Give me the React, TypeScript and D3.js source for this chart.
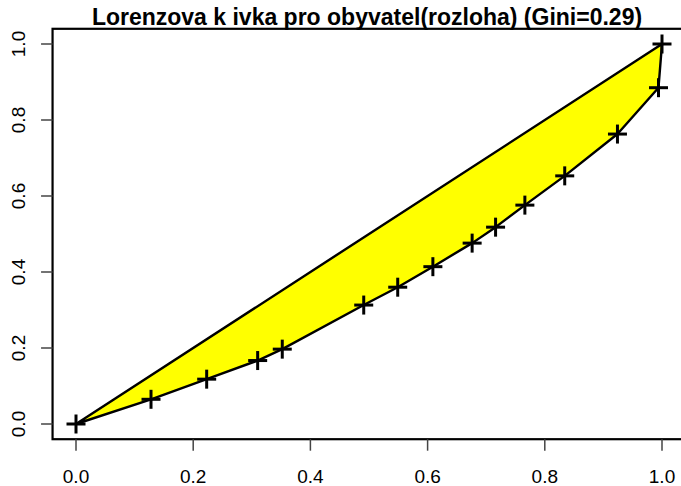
import { useEffect, useRef } from 'react';
import * as d3 from 'd3';

// kumulativní podíl obyvatel a rozlohy
const shareX = [0, 0.128, 0.223, 0.31, 0.352, 0.491, 0.549, 0.609, 0.676, 0.716, 0.766, 0.834, 0.924, 0.994, 1.0];
const shareY = [0, 0.065, 0.118, 0.167, 0.197, 0.313, 0.36, 0.414, 0.476, 0.518, 0.576, 0.653, 0.763, 0.885, 1.0];
const ticks = [0, 0.2, 0.4, 0.6, 0.8, 1.0];
const title = 'Lorenzova k ivka pro obyvatel(rozloha) (Gini=0.29)';

export default function App() {
  const ref = useRef<SVGSVGElement>(null);

  useEffect(() => {
    if (!ref.current) return;
    const svg = d3.select(ref.current);
    svg.selectAll('*').remove();

    const W = 681, H = 486;
    // oblast grafu (R-like, 4 % okraj)
    const x = d3.scaleLinear().domain([0, 1]).range([76, 662]);
    const y = d3.scaleLinear().domain([0, 1]).range([424, 44]);
    const left = x(-0.04), right = x(1.04), top = y(1.04), bottom = y(-0.04);
    const font = 'Liberation Sans, Arial, Helvetica, sans-serif';

    svg.attr('width', W).attr('height', H);
    svg.append('rect').attr('width', W).attr('height', H).attr('fill', 'white');

    const pts: [number, number][] = shareX.map((v, i) => [v, shareY[i]]);
    const poly = pts.concat([[1, 1], [0, 0]]);

    // vyplněná oblast mezi diagonálou a křivkou
    svg.append('path')
      .attr('d', d3.line<[number, number]>().x(d => x(d[0])).y(d => y(d[1]))(poly)!)
      .attr('fill', '#ffff00')
      .attr('stroke', 'black')
      .attr('stroke-width', 2.4)
      .attr('stroke-linejoin', 'round');

    // body (pch = 3)
    const s = 9.5;
    const g = svg.append('g').attr('stroke', 'black').attr('stroke-width', 3);
    pts.forEach(([a, b]) => {
      const cx = x(a), cy = y(b);
      g.append('line').attr('x1', cx - s).attr('x2', cx + s).attr('y1', cy).attr('y2', cy);
      g.append('line').attr('x1', cx).attr('x2', cx).attr('y1', cy - s).attr('y2', cy + s);
    });

    // rámeček
    svg.append('rect')
      .attr('x', left).attr('y', top)
      .attr('width', right - left).attr('height', bottom - top)
      .attr('fill', 'none').attr('stroke', 'black').attr('stroke-width', 2.2);

    // osa x
    const tl = 11.5;
    ticks.forEach(t => {
      svg.append('line')
        .attr('x1', x(t)).attr('x2', x(t)).attr('y1', bottom).attr('y2', bottom + tl)
        .attr('stroke', '#444').attr('stroke-width', 1.5);
      svg.append('text')
        .attr('x', x(t)).attr('y', bottom + 43.5)
        .attr('text-anchor', 'middle')
        .style('font-family', font).style('font-size', '19px')
        .text(t.toFixed(1));
    });

    // osa y
    ticks.forEach(t => {
      svg.append('line')
        .attr('x1', left).attr('x2', left - tl).attr('y1', y(t)).attr('y2', y(t))
        .attr('stroke', '#444').attr('stroke-width', 1.5);
      svg.append('text')
        .attr('transform', `translate(${left - 28},${y(t)}) rotate(-90)`)
        .attr('text-anchor', 'middle')
        .style('font-family', font).style('font-size', '19px')
        .text(t.toFixed(1));
    });

    svg.append('text')
      .attr('x', 367).attr('y', 25)
      .attr('text-anchor', 'middle')
      .style('font-family', font).style('font-size', '23px').style('font-weight', 'bold')
      .text(title);
  }, []);

  return <svg ref={ref} style={{ position: 'absolute', left: 0, top: 0, display: 'block' }} />;
}
